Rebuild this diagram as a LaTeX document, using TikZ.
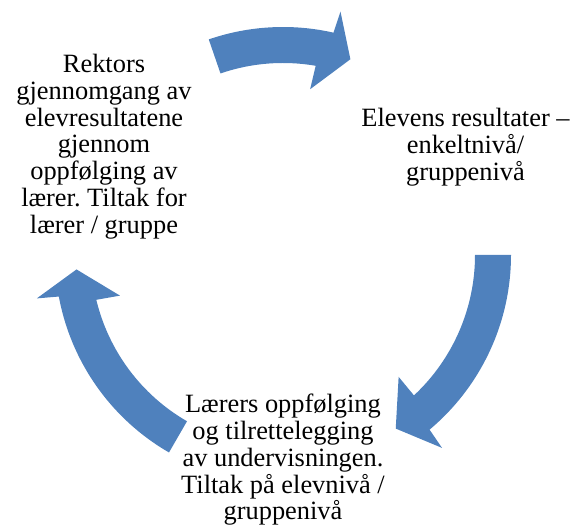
\documentclass[tikz,border=0pt]{standalone}
\usepackage{fontspec}
\setmainfont{Liberation Serif}
\frenchspacing
\definecolor{cycblue}{HTML}{4F81BD}
\tikzset{
  cyctext/.style={align=center, inner sep=0pt, font=\fontsize{26.4}{26.8}\selectfont},
  cycfill/.style={fill=cycblue, draw=none}
}
% block arc arrow: tail angle, head base angle, tip angle
\newcommand{\arcarrow}[3]{%
  \fill[cycfill] (#1:228) arc[start angle=#1, end angle={#2-1.5}, radius=228]
    -- ({#2-2}:250) -- (#3:207) -- ({#2+2}:168) -- ({#2+1.5}:192)
    arc[start angle={#2+1.5}, end angle=#1, radius=192] -- cycle;}

\begin{document}
\begin{tikzpicture}[x=1pt, y=1pt]
  \useasboundingbox (0,0) rectangle (573,529);
  % Define nodes
  \coordinate (c) at (283,274);
  \node[cyctext] (rektor) at (104,382.5) {Rektors\\gjennomgang av\\elevresultatene\\gjennom\\oppfølging av\\lærer. Tiltak for\\lærer / gruppe};
  \node[cyctext] (elev) at (465.5,382) {Elevens resultater –\\enkeltnivå/\\gruppenivå};
  \node[cyctext] (laerer) at (283,69.2) {Lærers oppfølging\\og tilrettelegging\\av undervisningen.\\Tiltak på elevnivå /\\gruppenivå};

  % Arrows round the cycle
  \begin{scope}[shift={(c)}]
    \arcarrow{109}{78.7}{71}
    \arcarrow{0}{-48.5}{-57}
    \arcarrow{240}{192}{184}
  \end{scope}
\end{tikzpicture}
\end{document}
